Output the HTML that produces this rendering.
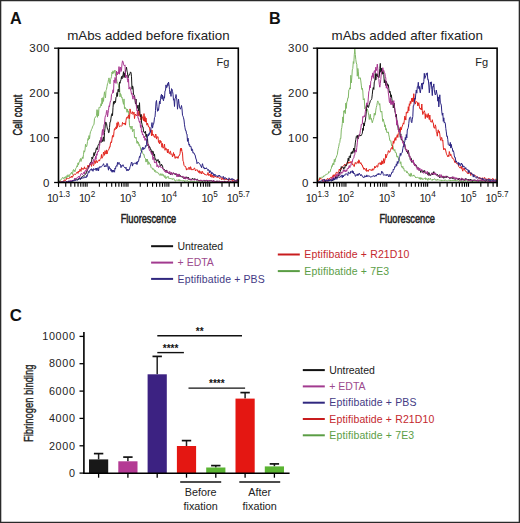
<!DOCTYPE html>
<html><head><meta charset="utf-8"><style>
html,body{margin:0;padding:0;background:#fff;}
body{width:520px;height:523px;overflow:hidden;}
svg{display:block;font-family:"Liberation Sans", sans-serif;}
</style></head><body>
<svg width="520" height="523" viewBox="0 0 520 523">
<text x="9.9" y="23.7" font-size="16.2" font-weight="bold" fill="#111">A</text>
<text x="269.0" y="23.7" font-size="16.2" font-weight="bold" fill="#111">B</text>
<text x="9.7" y="321.1" font-size="16.8" font-weight="bold" fill="#111">C</text>
<line x1="54.1" y1="182.5" x2="58.5" y2="182.5" stroke="#000" stroke-width="1.3"/>
<text x="50.0" y="186.5" font-size="11.5" letter-spacing="0.5" text-anchor="end" fill="#222">0</text>
<line x1="54.1" y1="137.7" x2="58.5" y2="137.7" stroke="#000" stroke-width="1.3"/>
<text x="50.0" y="141.7" font-size="11.5" letter-spacing="0.5" text-anchor="end" fill="#222">100</text>
<line x1="54.1" y1="93.0" x2="58.5" y2="93.0" stroke="#000" stroke-width="1.3"/>
<text x="50.0" y="97.0" font-size="11.5" letter-spacing="0.5" text-anchor="end" fill="#222">200</text>
<line x1="54.1" y1="48.2" x2="58.5" y2="48.2" stroke="#000" stroke-width="1.3"/>
<text x="50.0" y="52.2" font-size="11.5" letter-spacing="0.5" text-anchor="end" fill="#222">300</text>
<line x1="58.54" y1="182.5" x2="58.54" y2="186.8" stroke="#000" stroke-width="1.1"/>
<line x1="65.74" y1="182.5" x2="65.74" y2="186.8" stroke="#000" stroke-width="1.1"/>
<line x1="70.84" y1="182.5" x2="70.84" y2="186.8" stroke="#000" stroke-width="1.1"/>
<line x1="74.80" y1="182.5" x2="74.80" y2="186.8" stroke="#000" stroke-width="1.1"/>
<line x1="78.04" y1="182.5" x2="78.04" y2="186.8" stroke="#000" stroke-width="1.1"/>
<line x1="80.77" y1="182.5" x2="80.77" y2="186.8" stroke="#000" stroke-width="1.1"/>
<line x1="83.14" y1="182.5" x2="83.14" y2="186.8" stroke="#000" stroke-width="1.1"/>
<line x1="85.23" y1="182.5" x2="85.23" y2="186.8" stroke="#000" stroke-width="1.1"/>
<line x1="87.10" y1="182.5" x2="87.10" y2="186.8" stroke="#000" stroke-width="1.1"/>
<line x1="99.41" y1="182.5" x2="99.41" y2="186.8" stroke="#000" stroke-width="1.1"/>
<line x1="106.60" y1="182.5" x2="106.60" y2="186.8" stroke="#000" stroke-width="1.1"/>
<line x1="111.71" y1="182.5" x2="111.71" y2="186.8" stroke="#000" stroke-width="1.1"/>
<line x1="115.67" y1="182.5" x2="115.67" y2="186.8" stroke="#000" stroke-width="1.1"/>
<line x1="118.90" y1="182.5" x2="118.90" y2="186.8" stroke="#000" stroke-width="1.1"/>
<line x1="121.64" y1="182.5" x2="121.64" y2="186.8" stroke="#000" stroke-width="1.1"/>
<line x1="124.01" y1="182.5" x2="124.01" y2="186.8" stroke="#000" stroke-width="1.1"/>
<line x1="126.10" y1="182.5" x2="126.10" y2="186.8" stroke="#000" stroke-width="1.1"/>
<line x1="127.97" y1="182.5" x2="127.97" y2="186.8" stroke="#000" stroke-width="1.1"/>
<line x1="140.27" y1="182.5" x2="140.27" y2="186.8" stroke="#000" stroke-width="1.1"/>
<line x1="147.47" y1="182.5" x2="147.47" y2="186.8" stroke="#000" stroke-width="1.1"/>
<line x1="152.57" y1="182.5" x2="152.57" y2="186.8" stroke="#000" stroke-width="1.1"/>
<line x1="156.53" y1="182.5" x2="156.53" y2="186.8" stroke="#000" stroke-width="1.1"/>
<line x1="159.77" y1="182.5" x2="159.77" y2="186.8" stroke="#000" stroke-width="1.1"/>
<line x1="162.50" y1="182.5" x2="162.50" y2="186.8" stroke="#000" stroke-width="1.1"/>
<line x1="164.87" y1="182.5" x2="164.87" y2="186.8" stroke="#000" stroke-width="1.1"/>
<line x1="166.96" y1="182.5" x2="166.96" y2="186.8" stroke="#000" stroke-width="1.1"/>
<line x1="168.83" y1="182.5" x2="168.83" y2="186.8" stroke="#000" stroke-width="1.1"/>
<line x1="181.13" y1="182.5" x2="181.13" y2="186.8" stroke="#000" stroke-width="1.1"/>
<line x1="188.33" y1="182.5" x2="188.33" y2="186.8" stroke="#000" stroke-width="1.1"/>
<line x1="193.43" y1="182.5" x2="193.43" y2="186.8" stroke="#000" stroke-width="1.1"/>
<line x1="197.39" y1="182.5" x2="197.39" y2="186.8" stroke="#000" stroke-width="1.1"/>
<line x1="200.63" y1="182.5" x2="200.63" y2="186.8" stroke="#000" stroke-width="1.1"/>
<line x1="203.37" y1="182.5" x2="203.37" y2="186.8" stroke="#000" stroke-width="1.1"/>
<line x1="205.74" y1="182.5" x2="205.74" y2="186.8" stroke="#000" stroke-width="1.1"/>
<line x1="207.83" y1="182.5" x2="207.83" y2="186.8" stroke="#000" stroke-width="1.1"/>
<line x1="209.70" y1="182.5" x2="209.70" y2="186.8" stroke="#000" stroke-width="1.1"/>
<line x1="222.00" y1="182.5" x2="222.00" y2="186.8" stroke="#000" stroke-width="1.1"/>
<line x1="229.19" y1="182.5" x2="229.19" y2="186.8" stroke="#000" stroke-width="1.1"/>
<line x1="234.30" y1="182.5" x2="234.30" y2="186.8" stroke="#000" stroke-width="1.1"/>
<line x1="238.26" y1="182.5" x2="238.26" y2="186.8" stroke="#000" stroke-width="1.1"/>
<line x1="58.50" y1="182.5" x2="58.50" y2="186.8" stroke="#000" stroke-width="1.1"/>
<line x1="238.30" y1="182.5" x2="238.30" y2="186.8" stroke="#000" stroke-width="1.1"/>
<text x="58.5" y="201.6" font-size="11" text-anchor="middle" fill="#222"><tspan letter-spacing="-0.7">10</tspan><tspan font-size="8.2" dx="0.9" dy="-4.3">1.3</tspan></text>
<text x="87.1" y="201.6" font-size="11" text-anchor="middle" fill="#222"><tspan letter-spacing="-0.7">10</tspan><tspan font-size="8.2" dx="0.9" dy="-4.3">2</tspan></text>
<text x="128.0" y="201.6" font-size="11" text-anchor="middle" fill="#222"><tspan letter-spacing="-0.7">10</tspan><tspan font-size="8.2" dx="0.9" dy="-4.3">3</tspan></text>
<text x="168.8" y="201.6" font-size="11" text-anchor="middle" fill="#222"><tspan letter-spacing="-0.7">10</tspan><tspan font-size="8.2" dx="0.9" dy="-4.3">4</tspan></text>
<text x="209.7" y="201.6" font-size="11" text-anchor="middle" fill="#222"><tspan letter-spacing="-0.7">10</tspan><tspan font-size="8.2" dx="0.9" dy="-4.3">5</tspan></text>
<text x="238.3" y="201.6" font-size="11" text-anchor="middle" fill="#222"><tspan letter-spacing="-0.7">10</tspan><tspan font-size="8.2" dx="0.9" dy="-4.3">5.7</tspan></text>
<path d="M58.5 182.4L59.0 181.4L59.5 181.1L60.0 181.0L60.5 179.8L61.0 179.7L61.5 179.4L62.0 178.2L62.5 177.4L63.0 178.3L63.5 178.6L64.0 177.3L64.5 177.3L65.0 178.6L65.5 176.8L66.0 176.6L66.5 178.5L67.0 175.5L67.5 177.1L68.0 174.7L68.5 175.6L69.0 177.0L69.5 176.3L70.0 174.0L70.5 173.9L71.0 173.9L71.5 172.2L72.0 173.4L72.5 174.5L73.0 170.6L73.5 169.5L74.0 171.3L74.5 170.3L75.0 171.7L75.5 168.8L76.0 168.2L76.5 167.3L77.0 165.7L77.5 166.7L78.0 162.9L78.5 164.8L79.0 162.0L79.5 161.9L80.0 159.7L80.5 158.5L81.0 161.5L81.5 158.9L82.0 159.2L82.5 156.9L83.0 158.5L83.5 154.3L84.0 150.7L84.5 152.1L85.0 150.1L85.5 144.3L86.0 146.3L86.5 146.8L87.0 145.0L87.5 141.5L88.0 138.5L88.5 140.1L89.0 135.6L89.5 138.9L90.0 134.3L90.5 131.7L91.0 131.1L91.5 129.4L92.0 128.6L92.5 126.9L93.0 125.8L93.5 125.2L94.0 124.1L94.5 118.6L95.0 117.4L95.5 117.1L96.0 116.7L96.5 115.4L97.0 109.6L97.5 117.3L98.0 110.4L98.5 115.8L99.0 107.2L99.5 107.1L100.0 107.7L100.5 106.6L101.0 103.7L101.5 105.8L102.0 98.1L102.5 103.6L103.0 97.5L103.5 101.4L104.0 95.8L104.5 91.8L105.0 95.0L105.5 97.9L106.0 90.4L106.5 89.3L107.0 86.4L107.5 83.7L108.0 82.6L108.5 79.6L109.0 77.9L109.5 80.7L110.0 83.9L110.5 79.7L111.0 78.3L111.5 76.5L112.0 72.0L112.5 73.8L113.0 70.8L113.5 73.3L114.0 72.6L114.5 71.1L115.0 70.0L115.5 75.5L116.0 74.1L116.5 78.8L117.0 81.6L117.5 82.7L118.0 83.7L118.5 85.4L119.0 87.8L119.5 85.2L120.0 96.9L120.5 93.5L121.0 94.6L121.5 97.5L122.0 97.0L122.5 100.2L123.0 102.0L123.5 104.3L124.0 98.9L124.5 108.6L125.0 107.2L125.5 108.8L126.0 108.9L126.5 108.9L127.0 112.3L127.5 109.0L128.0 112.1L128.5 111.2L129.0 116.7L129.5 125.5L130.0 127.2L130.5 126.3L131.0 129.2L131.5 128.5L132.0 126.0L132.5 131.8L133.0 131.0L133.5 130.1L134.0 129.2L134.5 137.5L135.0 137.1L135.5 138.3L136.0 137.1L136.5 139.7L137.0 143.3L137.5 141.0L138.0 143.5L138.5 142.4L139.0 145.6L139.5 144.6L140.0 146.7L140.5 148.0L141.0 151.2L141.5 151.5L142.0 150.9L142.5 152.8L143.0 153.8L143.5 154.7L144.0 154.3L144.5 157.7L145.0 157.8L145.5 158.5L146.0 162.1L146.5 159.1L147.0 161.5L147.5 159.3L148.0 164.6L148.5 161.7L149.0 162.3L149.5 164.1L150.0 163.9L150.5 164.3L151.0 167.4L151.5 168.0L152.0 168.0L152.5 168.1L153.0 169.7L153.5 168.8L154.0 169.2L154.5 171.5L155.0 170.1L155.5 170.6L156.0 172.5L156.5 172.0L157.0 171.7L157.5 172.8L158.0 173.1L158.5 173.0L159.0 174.2L159.5 174.9L160.0 175.5L160.5 173.7L161.0 175.1L161.5 175.3L162.0 173.7L162.5 174.9L163.0 175.8L163.5 174.6L164.0 176.5L164.5 177.4L165.0 175.6L165.5 177.9L166.0 178.7L166.5 177.0L167.0 177.2L167.5 177.3L168.0 176.2L168.5 177.1L169.0 178.7L169.5 178.0L170.0 178.8L170.5 178.5L171.0 178.6L171.5 179.2L172.0 178.3L172.5 179.4L173.0 179.5L173.5 178.7L174.0 178.6L174.5 179.4L175.0 181.1L175.5 180.9L176.0 180.7L176.5 179.9L177.0 180.3L177.5 180.1L178.0 180.8L178.5 180.6L179.0 179.3L179.5 180.8L180.0 180.9L180.5 180.2L181.0 180.2L181.5 180.9L182.0 180.4L182.5 180.8L183.0 180.8L183.5 180.5L184.0 180.3L184.5 181.9L185.0 180.6L185.5 181.1L186.0 181.0L186.5 181.1L187.0 180.4L187.5 180.8L188.0 180.7L188.5 181.8L189.0 181.0L189.5 181.0L190.0 181.8L190.5 181.6L191.0 182.0L191.5 181.7L192.0 181.5L192.5 181.2L193.0 182.2L193.5 181.5L194.0 181.2L194.5 181.5L195.0 181.5L195.5 182.2L196.0 182.4L196.5 181.6L197.0 182.0L197.5 181.4L198.0 181.6L198.5 181.4L199.0 181.8L199.5 181.9L200.0 181.8L200.5 181.6L201.0 181.7L201.5 181.5L202.0 182.0L202.5 181.7L203.0 181.9L203.5 182.2L204.0 181.6L204.5 182.4L205.0 181.1L205.5 181.7L206.0 182.2L206.5 181.8L207.0 181.6L207.5 181.8L208.0 182.4L208.5 182.4L209.0 181.5L209.5 181.8L210.0 181.8L210.5 182.4L211.0 181.9L211.5 182.1L212.0 182.1L212.5 182.0L213.0 181.9L213.5 182.4L214.0 182.1L214.5 181.7L215.0 182.0L215.5 181.7L216.0 182.1L216.5 182.0L217.0 181.8L217.5 181.5L218.0 182.4L218.5 182.1L219.0 182.4L219.5 181.9L220.0 182.3L220.5 182.4L221.0 182.4L221.5 182.0L222.0 181.6L222.5 181.8L223.0 182.3L223.5 182.4L224.0 182.4L224.5 182.2L225.0 182.3L225.5 182.4L226.0 182.2L226.5 182.3L227.0 182.4L227.5 182.0L228.0 182.4L228.5 182.4L229.0 182.4L229.5 182.4L230.0 182.3L230.5 182.0L231.0 182.4L231.5 182.4L232.0 182.1L232.5 182.4L233.0 182.2L233.5 182.1L234.0 182.3L234.5 182.3L235.0 182.2L235.5 182.3L236.0 182.3L236.5 182.1L237.0 182.4L237.5 182.4L238.0 182.2" fill="none" stroke="#80b866" stroke-width="1.00" stroke-linejoin="round"/>
<path d="M58.5 182.4L59.0 182.4L59.5 182.0L60.0 181.8L60.5 181.4L61.0 181.5L61.5 181.9L62.0 181.5L62.5 181.6L63.0 181.1L63.5 181.0L64.0 180.8L64.5 179.7L65.0 180.8L65.5 180.4L66.0 180.1L66.5 178.5L67.0 178.2L67.5 178.4L68.0 178.4L68.5 178.6L69.0 178.1L69.5 178.2L70.0 177.0L70.5 177.4L71.0 177.1L71.5 176.0L72.0 177.6L72.5 176.3L73.0 176.5L73.5 174.7L74.0 174.2L74.5 174.2L75.0 174.1L75.5 174.5L76.0 173.8L76.5 172.8L77.0 172.0L77.5 172.0L78.0 173.4L78.5 171.0L79.0 171.7L79.5 171.5L80.0 169.2L80.5 170.4L81.0 171.4L81.5 167.6L82.0 169.2L82.5 169.2L83.0 168.2L83.5 169.4L84.0 168.6L84.5 166.8L85.0 169.1L85.5 168.7L86.0 168.8L86.5 169.2L87.0 167.7L87.5 167.1L88.0 165.1L88.5 167.1L89.0 165.4L89.5 165.3L90.0 164.0L90.5 164.1L91.0 164.3L91.5 166.4L92.0 162.0L92.5 162.5L93.0 164.4L93.5 165.7L94.0 164.4L94.5 161.0L95.0 160.4L95.5 163.4L96.0 161.5L96.5 160.5L97.0 162.8L97.5 162.5L98.0 160.7L98.5 160.3L99.0 160.0L99.5 161.1L100.0 159.2L100.5 158.6L101.0 158.1L101.5 154.5L102.0 158.3L102.5 157.3L103.0 156.2L103.5 152.0L104.0 153.5L104.5 155.3L105.0 150.7L105.5 152.7L106.0 154.1L106.5 149.9L107.0 154.0L107.5 151.8L108.0 150.2L108.5 149.9L109.0 149.1L109.5 146.9L110.0 147.3L110.5 142.8L111.0 141.8L111.5 142.7L112.0 139.1L112.5 135.5L113.0 137.2L113.5 136.7L114.0 131.7L114.5 128.6L115.0 129.8L115.5 128.5L116.0 126.8L116.5 128.9L117.0 122.8L117.5 127.4L118.0 121.8L118.5 122.6L119.0 125.4L119.5 126.7L120.0 126.5L120.5 125.8L121.0 125.8L121.5 126.2L122.0 125.6L122.5 122.4L123.0 123.5L123.5 124.1L124.0 123.0L124.5 124.3L125.0 122.9L125.5 125.1L126.0 120.4L126.5 117.7L127.0 116.9L127.5 116.9L128.0 118.4L128.5 114.9L129.0 115.9L129.5 118.7L130.0 108.9L130.5 110.9L131.0 113.6L131.5 113.4L132.0 112.9L132.5 111.7L133.0 114.5L133.5 113.8L134.0 112.1L134.5 118.6L135.0 115.2L135.5 114.0L136.0 115.6L136.5 115.5L137.0 116.0L137.5 110.4L138.0 113.3L138.5 115.7L139.0 110.4L139.5 113.2L140.0 116.3L140.5 117.5L141.0 120.3L141.5 114.6L142.0 117.4L142.5 116.8L143.0 119.3L143.5 120.6L144.0 113.6L144.5 121.3L145.0 116.6L145.5 122.1L146.0 118.0L146.5 122.3L147.0 125.2L147.5 123.1L148.0 124.8L148.5 127.0L149.0 126.6L149.5 127.1L150.0 131.5L150.5 131.5L151.0 129.8L151.5 135.8L152.0 130.1L152.5 135.3L153.0 134.0L153.5 135.2L154.0 136.8L154.5 136.4L155.0 137.7L155.5 134.0L156.0 134.5L156.5 139.1L157.0 136.6L157.5 137.0L158.0 136.7L158.5 142.2L159.0 141.8L159.5 143.8L160.0 140.1L160.5 142.5L161.0 141.2L161.5 145.2L162.0 147.3L162.5 143.5L163.0 148.3L163.5 147.9L164.0 146.5L164.5 144.1L165.0 150.3L165.5 148.2L166.0 147.9L166.5 150.1L167.0 150.6L167.5 152.8L168.0 149.0L168.5 152.7L169.0 153.5L169.5 153.7L170.0 151.4L170.5 151.2L171.0 154.6L171.5 153.8L172.0 154.4L172.5 157.0L173.0 154.9L173.5 152.5L174.0 155.7L174.5 154.1L175.0 158.5L175.5 158.1L176.0 156.5L176.5 157.2L177.0 158.1L177.5 156.8L178.0 158.4L178.5 156.1L179.0 156.1L179.5 155.2L180.0 153.8L180.5 148.4L181.0 150.8L181.5 148.3L182.0 151.7L182.5 153.1L183.0 161.1L183.5 161.7L184.0 165.6L184.5 165.9L185.0 166.6L185.5 166.4L186.0 167.9L186.5 170.1L187.0 168.5L187.5 169.1L188.0 169.6L188.5 168.3L189.0 167.1L189.5 167.9L190.0 169.7L190.5 166.7L191.0 167.9L191.5 169.8L192.0 169.8L192.5 169.1L193.0 170.1L193.5 169.6L194.0 168.3L194.5 168.0L195.0 169.2L195.5 171.0L196.0 169.8L196.5 169.8L197.0 170.3L197.5 169.9L198.0 171.6L198.5 170.9L199.0 172.8L199.5 170.7L200.0 173.4L200.5 172.6L201.0 171.4L201.5 174.0L202.0 173.1L202.5 171.4L203.0 172.7L203.5 173.9L204.0 173.3L204.5 174.5L205.0 174.5L205.5 174.6L206.0 174.3L206.5 175.3L207.0 174.8L207.5 174.7L208.0 172.5L208.5 175.3L209.0 175.7L209.5 174.4L210.0 174.5L210.5 176.7L211.0 173.7L211.5 175.8L212.0 177.4L212.5 175.0L213.0 176.5L213.5 177.6L214.0 176.2L214.5 176.9L215.0 177.3L215.5 176.0L216.0 176.8L216.5 177.3L217.0 177.8L217.5 177.4L218.0 177.4L218.5 177.0L219.0 177.6L219.5 178.6L220.0 178.1L220.5 177.6L221.0 177.7L221.5 179.9L222.0 179.3L222.5 179.1L223.0 177.4L223.5 179.3L224.0 179.4L224.5 180.2L225.0 179.5L225.5 179.3L226.0 179.7L226.5 178.2L227.0 180.1L227.5 179.7L228.0 179.1L228.5 180.4L229.0 180.7L229.5 178.9L230.0 179.4L230.5 180.0L231.0 180.0L231.5 179.7L232.0 179.4L232.5 181.2L233.0 180.6L233.5 179.5L234.0 179.4L234.5 181.1L235.0 180.8L235.5 181.2L236.0 180.7L236.5 179.9L237.0 180.5L237.5 179.3L238.0 180.1" fill="none" stroke="#e2231c" stroke-width="1.00" stroke-linejoin="round"/>
<path d="M58.5 182.4L59.0 182.4L59.5 182.1L60.0 181.9L60.5 182.3L61.0 182.4L61.5 182.2L62.0 181.8L62.5 182.1L63.0 182.4L63.5 181.7L64.0 182.4L64.5 182.2L65.0 182.2L65.5 182.3L66.0 181.8L66.5 181.9L67.0 182.4L67.5 181.8L68.0 181.8L68.5 181.4L69.0 181.7L69.5 182.1L70.0 182.2L70.5 181.9L71.0 181.7L71.5 181.6L72.0 181.3L72.5 181.4L73.0 180.7L73.5 181.2L74.0 180.4L74.5 179.5L75.0 179.5L75.5 179.9L76.0 179.6L76.5 179.0L77.0 179.0L77.5 179.4L78.0 179.4L78.5 179.5L79.0 178.3L79.5 178.9L80.0 179.2L80.5 178.4L81.0 179.0L81.5 177.0L82.0 177.0L82.5 176.8L83.0 175.9L83.5 175.8L84.0 175.7L84.5 175.1L85.0 174.3L85.5 174.0L86.0 173.9L86.5 171.4L87.0 171.8L87.5 169.3L88.0 168.9L88.5 166.8L89.0 166.9L89.5 165.2L90.0 164.1L90.5 162.3L91.0 162.2L91.5 162.9L92.0 157.0L92.5 159.0L93.0 157.3L93.5 155.2L94.0 152.6L94.5 155.7L95.0 152.3L95.5 152.6L96.0 149.4L96.5 147.8L97.0 149.8L97.5 148.2L98.0 145.5L98.5 144.6L99.0 145.1L99.5 141.6L100.0 140.5L100.5 141.3L101.0 142.6L101.5 141.8L102.0 140.0L102.5 141.5L103.0 138.2L103.5 136.9L104.0 141.4L104.5 132.4L105.0 128.4L105.5 122.2L106.0 122.2L106.5 123.3L107.0 126.9L107.5 129.2L108.0 129.2L108.5 132.6L109.0 132.7L109.5 127.6L110.0 121.9L110.5 121.8L111.0 118.1L111.5 114.7L112.0 113.6L112.5 115.6L113.0 107.6L113.5 101.6L114.0 104.2L114.5 101.0L115.0 102.7L115.5 102.4L116.0 97.1L116.5 96.7L117.0 92.6L117.5 96.4L118.0 89.6L118.5 88.9L119.0 92.0L119.5 81.9L120.0 83.3L120.5 81.2L121.0 79.7L121.5 76.5L122.0 78.9L122.5 75.7L123.0 75.5L123.5 71.7L124.0 77.6L124.5 73.2L125.0 76.9L125.5 70.0L126.0 69.6L126.5 67.2L127.0 71.1L127.5 72.8L128.0 77.9L128.5 76.5L129.0 74.7L129.5 74.8L130.0 73.4L130.5 71.9L131.0 72.7L131.5 76.8L132.0 89.3L132.5 85.9L133.0 87.2L133.5 94.5L134.0 94.6L134.5 95.4L135.0 100.4L135.5 103.9L136.0 99.0L136.5 106.2L137.0 105.9L137.5 108.3L138.0 105.0L138.5 110.8L139.0 110.1L139.5 102.7L140.0 113.9L140.5 116.9L141.0 114.5L141.5 122.0L142.0 124.1L142.5 127.0L143.0 126.8L143.5 131.0L144.0 132.5L144.5 132.1L145.0 133.3L145.5 131.3L146.0 136.6L146.5 134.3L147.0 138.0L147.5 138.6L148.0 146.0L148.5 144.2L149.0 148.2L149.5 146.4L150.0 147.3L150.5 149.5L151.0 149.2L151.5 153.7L152.0 150.8L152.5 154.6L153.0 151.3L153.5 152.7L154.0 156.0L154.5 154.0L155.0 159.8L155.5 158.8L156.0 159.2L156.5 162.5L157.0 160.4L157.5 160.9L158.0 159.4L158.5 160.3L159.0 162.8L159.5 161.0L160.0 165.0L160.5 165.9L161.0 165.9L161.5 164.1L162.0 165.6L162.5 165.7L163.0 168.7L163.5 169.7L164.0 169.0L164.5 170.0L165.0 170.5L165.5 171.4L166.0 170.0L166.5 170.3L167.0 172.4L167.5 172.5L168.0 172.8L168.5 172.7L169.0 173.7L169.5 173.6L170.0 172.8L170.5 175.0L171.0 174.5L171.5 173.5L172.0 173.7L172.5 173.3L173.0 172.8L173.5 173.2L174.0 173.0L174.5 173.8L175.0 174.8L175.5 174.6L176.0 173.6L176.5 174.8L177.0 174.6L177.5 174.4L178.0 176.3L178.5 174.7L179.0 176.5L179.5 174.5L180.0 176.3L180.5 175.6L181.0 177.1L181.5 176.8L182.0 176.1L182.5 177.3L183.0 177.9L183.5 178.1L184.0 178.3L184.5 177.1L185.0 179.0L185.5 177.2L186.0 177.7L186.5 176.8L187.0 177.9L187.5 177.2L188.0 178.4L188.5 177.3L189.0 179.8L189.5 179.2L190.0 179.8L190.5 179.7L191.0 179.1L191.5 179.4L192.0 179.3L192.5 178.1L193.0 178.6L193.5 179.1L194.0 179.9L194.5 178.6L195.0 179.6L195.5 179.2L196.0 180.1L196.5 180.1L197.0 179.2L197.5 179.2L198.0 180.7L198.5 180.5L199.0 180.0L199.5 180.5L200.0 180.1L200.5 180.4L201.0 180.0L201.5 180.6L202.0 181.2L202.5 181.1L203.0 181.1L203.5 180.6L204.0 181.1L204.5 180.4L205.0 180.5L205.5 180.8L206.0 180.3L206.5 180.9L207.0 180.0L207.5 181.6L208.0 181.3L208.5 181.1L209.0 180.6L209.5 180.7L210.0 180.8L210.5 180.3L211.0 180.8L211.5 180.6L212.0 181.5L212.5 181.7L213.0 181.8L213.5 180.5L214.0 180.6L214.5 181.8L215.0 181.5L215.5 181.7L216.0 181.5L216.5 181.4L217.0 182.2L217.5 181.7L218.0 181.6L218.5 180.9L219.0 181.4L219.5 182.0L220.0 181.7L220.5 181.8L221.0 181.4L221.5 181.8L222.0 181.3L222.5 181.5L223.0 182.0L223.5 182.2L224.0 181.4L224.5 181.5L225.0 181.5L225.5 181.5L226.0 181.6L226.5 182.0L227.0 181.8L227.5 181.7L228.0 181.9L228.5 181.1L229.0 181.7L229.5 182.4L230.0 181.4L230.5 181.6L231.0 181.9L231.5 182.2L232.0 181.7L232.5 181.5L233.0 182.4L233.5 181.1L234.0 181.6L234.5 181.6L235.0 181.2L235.5 182.4L236.0 182.4L236.5 181.5L237.0 181.8L237.5 181.9L238.0 182.2" fill="none" stroke="#141414" stroke-width="1.00" stroke-linejoin="round"/>
<path d="M58.5 182.4L59.0 182.4L59.5 182.2L60.0 182.1L60.5 182.4L61.0 182.4L61.5 182.3L62.0 181.9L62.5 181.9L63.0 182.1L63.5 182.4L64.0 182.1L64.5 181.9L65.0 181.9L65.5 182.0L66.0 181.5L66.5 181.7L67.0 181.6L67.5 182.1L68.0 181.3L68.5 181.6L69.0 180.6L69.5 181.4L70.0 180.9L70.5 180.5L71.0 180.6L71.5 181.0L72.0 180.2L72.5 180.7L73.0 180.8L73.5 180.6L74.0 180.3L74.5 178.3L75.0 179.0L75.5 178.1L76.0 178.9L76.5 178.0L77.0 177.9L77.5 177.8L78.0 176.7L78.5 176.9L79.0 176.0L79.5 177.9L80.0 175.7L80.5 175.6L81.0 173.7L81.5 173.5L82.0 173.6L82.5 174.6L83.0 174.2L83.5 173.3L84.0 172.0L84.5 174.0L85.0 170.8L85.5 170.5L86.0 171.4L86.5 169.5L87.0 170.2L87.5 170.3L88.0 168.5L88.5 168.4L89.0 167.3L89.5 165.8L90.0 163.2L90.5 163.7L91.0 164.5L91.5 161.8L92.0 162.5L92.5 162.8L93.0 163.6L93.5 159.4L94.0 159.9L94.5 160.2L95.0 160.0L95.5 156.3L96.0 159.4L96.5 153.9L97.0 155.3L97.5 151.7L98.0 151.3L98.5 151.9L99.0 148.9L99.5 146.5L100.0 142.5L100.5 140.8L101.0 137.2L101.5 141.4L102.0 132.8L102.5 129.5L103.0 135.2L103.5 131.5L104.0 124.4L104.5 124.2L105.0 117.8L105.5 115.6L106.0 114.9L106.5 111.3L107.0 110.2L107.5 116.9L108.0 113.4L108.5 110.4L109.0 105.8L109.5 106.7L110.0 102.9L110.5 100.9L111.0 100.6L111.5 94.4L112.0 93.8L112.5 93.0L113.0 89.8L113.5 92.6L114.0 80.1L114.5 82.6L115.0 77.5L115.5 78.7L116.0 83.4L116.5 71.0L117.0 73.3L117.5 74.8L118.0 72.0L118.5 73.5L119.0 66.6L119.5 74.2L120.0 68.7L120.5 67.2L121.0 71.5L121.5 70.1L122.0 63.8L122.5 60.8L123.0 61.7L123.5 64.2L124.0 65.6L124.5 65.5L125.0 64.9L125.5 78.0L126.0 77.3L126.5 75.2L127.0 76.2L127.5 80.4L128.0 82.2L128.5 78.6L129.0 89.1L129.5 87.7L130.0 86.9L130.5 90.0L131.0 90.9L131.5 94.3L132.0 93.2L132.5 97.3L133.0 99.2L133.5 95.7L134.0 96.6L134.5 96.8L135.0 99.8L135.5 99.9L136.0 103.0L136.5 107.1L137.0 111.0L137.5 110.2L138.0 118.4L138.5 118.1L139.0 121.0L139.5 122.5L140.0 121.1L140.5 127.5L141.0 125.0L141.5 132.2L142.0 131.1L142.5 135.1L143.0 134.3L143.5 135.5L144.0 138.0L144.5 136.3L145.0 140.4L145.5 138.4L146.0 140.2L146.5 139.6L147.0 142.9L147.5 144.2L148.0 143.9L148.5 144.3L149.0 148.2L149.5 150.7L150.0 151.0L150.5 150.9L151.0 152.5L151.5 154.4L152.0 152.5L152.5 155.9L153.0 159.7L153.5 156.8L154.0 159.3L154.5 162.8L155.0 162.2L155.5 163.1L156.0 162.4L156.5 161.6L157.0 166.8L157.5 164.9L158.0 165.3L158.5 167.5L159.0 167.0L159.5 166.6L160.0 165.7L160.5 167.2L161.0 167.6L161.5 167.4L162.0 167.6L162.5 167.8L163.0 169.2L163.5 169.0L164.0 170.5L164.5 171.5L165.0 171.1L165.5 171.0L166.0 172.9L166.5 172.2L167.0 170.4L167.5 171.4L168.0 172.6L168.5 171.9L169.0 173.7L169.5 171.5L170.0 171.5L170.5 174.3L171.0 174.1L171.5 172.2L172.0 173.9L172.5 175.1L173.0 173.0L173.5 173.1L174.0 173.2L174.5 173.5L175.0 173.0L175.5 174.2L176.0 173.5L176.5 175.0L177.0 177.0L177.5 174.3L178.0 176.1L178.5 176.5L179.0 173.9L179.5 175.9L180.0 176.0L180.5 175.9L181.0 176.9L181.5 176.1L182.0 176.8L182.5 176.4L183.0 176.8L183.5 176.4L184.0 178.8L184.5 177.3L185.0 176.7L185.5 179.0L186.0 178.9L186.5 177.8L187.0 177.6L187.5 177.7L188.0 179.2L188.5 178.3L189.0 178.2L189.5 179.4L190.0 178.8L190.5 179.1L191.0 180.4L191.5 179.8L192.0 180.1L192.5 179.6L193.0 180.2L193.5 179.4L194.0 180.1L194.5 180.2L195.0 179.4L195.5 179.0L196.0 180.1L196.5 179.7L197.0 180.2L197.5 179.6L198.0 180.3L198.5 180.5L199.0 181.3L199.5 181.1L200.0 180.4L200.5 181.0L201.0 179.9L201.5 180.9L202.0 180.5L202.5 181.1L203.0 180.7L203.5 180.4L204.0 180.2L204.5 181.3L205.0 180.7L205.5 181.1L206.0 181.0L206.5 179.9L207.0 181.1L207.5 180.7L208.0 181.1L208.5 181.1L209.0 180.1L209.5 180.8L210.0 180.9L210.5 181.2L211.0 181.4L211.5 180.7L212.0 181.0L212.5 181.4L213.0 180.3L213.5 181.9L214.0 180.7L214.5 181.7L215.0 181.3L215.5 182.0L216.0 181.7L216.5 181.2L217.0 180.6L217.5 181.4L218.0 181.5L218.5 181.6L219.0 180.9L219.5 181.1L220.0 181.1L220.5 181.5L221.0 181.1L221.5 181.4L222.0 181.9L222.5 181.4L223.0 182.1L223.5 181.7L224.0 181.5L224.5 182.0L225.0 181.8L225.5 181.5L226.0 181.4L226.5 181.6L227.0 181.8L227.5 182.1L228.0 181.8L228.5 181.5L229.0 181.2L229.5 181.8L230.0 181.9L230.5 182.2L231.0 181.6L231.5 181.3L232.0 182.1L232.5 181.8L233.0 181.4L233.5 182.4L234.0 182.2L234.5 181.9L235.0 182.0L235.5 181.7L236.0 182.3L236.5 181.8L237.0 181.8L237.5 181.9L238.0 181.6" fill="none" stroke="#a8348f" stroke-width="1.00" stroke-linejoin="round"/>
<path d="M58.5 182.4L59.0 182.4L59.5 182.2L60.0 182.2L60.5 182.4L61.0 182.4L61.5 182.1L62.0 182.3L62.5 181.8L63.0 182.4L63.5 182.3L64.0 182.2L64.5 182.3L65.0 182.1L65.5 182.4L66.0 182.4L66.5 181.5L67.0 182.4L67.5 182.3L68.0 182.3L68.5 181.0L69.0 181.5L69.5 181.3L70.0 181.1L70.5 181.4L71.0 181.9L71.5 181.2L72.0 181.1L72.5 181.0L73.0 180.1L73.5 180.6L74.0 181.1L74.5 180.6L75.0 179.9L75.5 180.4L76.0 180.2L76.5 179.9L77.0 180.0L77.5 180.3L78.0 179.4L78.5 179.2L79.0 178.2L79.5 178.3L80.0 178.9L80.5 179.6L81.0 177.7L81.5 177.7L82.0 177.4L82.5 178.1L83.0 178.5L83.5 177.6L84.0 178.1L84.5 176.7L85.0 176.7L85.5 177.0L86.0 177.9L86.5 175.5L87.0 176.7L87.5 174.9L88.0 173.2L88.5 171.5L89.0 172.6L89.5 171.7L90.0 169.9L90.5 169.7L91.0 170.1L91.5 168.7L92.0 170.5L92.5 169.5L93.0 171.3L93.5 168.6L94.0 169.7L94.5 169.3L95.0 169.3L95.5 168.4L96.0 170.4L96.5 168.0L97.0 170.6L97.5 168.8L98.0 167.7L98.5 170.9L99.0 168.0L99.5 166.7L100.0 167.7L100.5 166.6L101.0 167.1L101.5 166.7L102.0 166.4L102.5 165.3L103.0 164.8L103.5 163.7L104.0 165.2L104.5 167.0L105.0 165.9L105.5 165.6L106.0 166.8L106.5 165.5L107.0 163.4L107.5 164.2L108.0 167.5L108.5 170.2L109.0 166.4L109.5 168.5L110.0 168.1L110.5 168.4L111.0 171.1L111.5 169.5L112.0 172.2L112.5 170.1L113.0 172.2L113.5 170.1L114.0 171.4L114.5 172.2L115.0 168.0L115.5 169.1L116.0 166.0L116.5 165.6L117.0 166.4L117.5 162.4L118.0 164.5L118.5 163.0L119.0 162.3L119.5 163.6L120.0 164.9L120.5 164.5L121.0 167.7L121.5 165.6L122.0 165.8L122.5 166.1L123.0 164.7L123.5 166.3L124.0 166.8L124.5 167.5L125.0 167.3L125.5 168.4L126.0 167.2L126.5 170.6L127.0 170.2L127.5 169.2L128.0 171.0L128.5 169.5L129.0 169.3L129.5 169.6L130.0 166.8L130.5 166.1L131.0 164.0L131.5 162.0L132.0 162.6L132.5 166.1L133.0 163.7L133.5 163.8L134.0 163.6L134.5 163.4L135.0 162.8L135.5 163.4L136.0 164.1L136.5 161.9L137.0 164.5L137.5 161.5L138.0 162.1L138.5 161.5L139.0 158.8L139.5 156.4L140.0 157.5L140.5 154.4L141.0 152.9L141.5 152.0L142.0 148.4L142.5 147.4L143.0 149.8L143.5 147.6L144.0 149.2L144.5 148.4L145.0 148.5L145.5 145.6L146.0 146.5L146.5 144.8L147.0 138.3L147.5 137.2L148.0 134.3L148.5 136.0L149.0 133.4L149.5 134.4L150.0 131.7L150.5 132.3L151.0 127.6L151.5 126.6L152.0 122.6L152.5 128.1L153.0 125.5L153.5 124.3L154.0 122.0L154.5 117.6L155.0 117.0L155.5 110.4L156.0 102.2L156.5 100.5L157.0 106.5L157.5 111.3L158.0 108.8L158.5 110.4L159.0 106.0L159.5 101.2L160.0 104.0L160.5 98.6L161.0 95.6L161.5 94.3L162.0 99.1L162.5 95.1L163.0 99.3L163.5 100.8L164.0 96.6L164.5 98.2L165.0 90.7L165.5 90.6L166.0 84.9L166.5 87.6L167.0 87.5L167.5 83.6L168.0 85.6L168.5 82.0L169.0 84.5L169.5 89.7L170.0 93.8L170.5 91.6L171.0 96.4L171.5 88.7L172.0 89.1L172.5 91.3L173.0 94.2L173.5 100.2L174.0 99.5L174.5 106.5L175.0 98.2L175.5 98.0L176.0 94.5L176.5 97.6L177.0 101.0L177.5 109.2L178.0 104.4L178.5 99.0L179.0 103.4L179.5 106.9L180.0 108.2L180.5 109.2L181.0 107.4L181.5 105.5L182.0 108.9L182.5 115.3L183.0 116.2L183.5 117.8L184.0 120.0L184.5 124.8L185.0 127.8L185.5 130.5L186.0 130.4L186.5 133.8L187.0 134.0L187.5 141.4L188.0 138.1L188.5 141.4L189.0 145.2L189.5 144.1L190.0 146.9L190.5 146.3L191.0 146.3L191.5 150.6L192.0 148.8L192.5 149.4L193.0 153.2L193.5 152.8L194.0 152.8L194.5 154.5L195.0 154.6L195.5 157.0L196.0 159.0L196.5 160.0L197.0 163.7L197.5 162.9L198.0 162.2L198.5 162.9L199.0 162.8L199.5 163.5L200.0 164.2L200.5 165.7L201.0 165.9L201.5 167.7L202.0 165.3L202.5 163.7L203.0 166.0L203.5 168.1L204.0 167.4L204.5 169.1L205.0 168.0L205.5 169.0L206.0 167.9L206.5 167.9L207.0 169.1L207.5 169.5L208.0 170.7L208.5 169.5L209.0 170.1L209.5 172.8L210.0 170.6L210.5 171.9L211.0 171.6L211.5 174.0L212.0 172.3L212.5 173.4L213.0 173.0L213.5 175.5L214.0 174.1L214.5 175.6L215.0 174.2L215.5 175.6L216.0 176.3L216.5 175.8L217.0 175.5L217.5 177.0L218.0 175.8L218.5 175.5L219.0 176.6L219.5 175.1L220.0 176.2L220.5 176.5L221.0 176.9L221.5 176.9L222.0 177.6L222.5 177.0L223.0 176.4L223.5 176.5L224.0 179.2L224.5 179.1L225.0 177.4L225.5 178.2L226.0 178.1L226.5 178.8L227.0 178.8L227.5 179.3L228.0 179.7L228.5 180.2L229.0 177.8L229.5 178.3L230.0 179.3L230.5 179.4L231.0 180.1L231.5 179.0L232.0 178.3L232.5 179.5L233.0 178.9L233.5 179.8L234.0 179.6L234.5 180.0L235.0 180.4L235.5 180.6L236.0 180.2L236.5 180.3L237.0 180.4L237.5 180.4L238.0 181.0" fill="none" stroke="#2b2483" stroke-width="1.00" stroke-linejoin="round"/>
<rect x="58.5" y="48.2" width="179.8" height="134.3" fill="none" stroke="#000" stroke-width="1.6"/>
<text x="216.5" y="65.6" font-size="11" fill="#222">Fg</text>
<text x="148.4" y="40.2" font-size="13.35" text-anchor="middle" fill="#222">mAbs added before fixation</text>
<text transform="translate(148.4 223.4) scale(0.735 1)" font-size="12.6" text-anchor="middle" fill="#222" stroke="#222" stroke-width="0.55">Fluorescence</text>
<text transform="translate(22.2 115.1) rotate(-90) scale(0.705 1)" font-size="13" text-anchor="middle" fill="#222" stroke="#222" stroke-width="0.55">Cell count</text>
<line x1="312.9" y1="182.5" x2="317.3" y2="182.5" stroke="#000" stroke-width="1.3"/>
<text x="308.8" y="186.5" font-size="11.5" letter-spacing="0.5" text-anchor="end" fill="#222">0</text>
<line x1="312.9" y1="137.7" x2="317.3" y2="137.7" stroke="#000" stroke-width="1.3"/>
<text x="308.8" y="141.7" font-size="11.5" letter-spacing="0.5" text-anchor="end" fill="#222">100</text>
<line x1="312.9" y1="93.0" x2="317.3" y2="93.0" stroke="#000" stroke-width="1.3"/>
<text x="308.8" y="97.0" font-size="11.5" letter-spacing="0.5" text-anchor="end" fill="#222">200</text>
<line x1="312.9" y1="48.2" x2="317.3" y2="48.2" stroke="#000" stroke-width="1.3"/>
<text x="308.8" y="52.2" font-size="11.5" letter-spacing="0.5" text-anchor="end" fill="#222">300</text>
<line x1="317.34" y1="182.5" x2="317.34" y2="186.8" stroke="#000" stroke-width="1.1"/>
<line x1="324.54" y1="182.5" x2="324.54" y2="186.8" stroke="#000" stroke-width="1.1"/>
<line x1="329.64" y1="182.5" x2="329.64" y2="186.8" stroke="#000" stroke-width="1.1"/>
<line x1="333.60" y1="182.5" x2="333.60" y2="186.8" stroke="#000" stroke-width="1.1"/>
<line x1="336.84" y1="182.5" x2="336.84" y2="186.8" stroke="#000" stroke-width="1.1"/>
<line x1="339.57" y1="182.5" x2="339.57" y2="186.8" stroke="#000" stroke-width="1.1"/>
<line x1="341.94" y1="182.5" x2="341.94" y2="186.8" stroke="#000" stroke-width="1.1"/>
<line x1="344.03" y1="182.5" x2="344.03" y2="186.8" stroke="#000" stroke-width="1.1"/>
<line x1="345.90" y1="182.5" x2="345.90" y2="186.8" stroke="#000" stroke-width="1.1"/>
<line x1="358.21" y1="182.5" x2="358.21" y2="186.8" stroke="#000" stroke-width="1.1"/>
<line x1="365.40" y1="182.5" x2="365.40" y2="186.8" stroke="#000" stroke-width="1.1"/>
<line x1="370.51" y1="182.5" x2="370.51" y2="186.8" stroke="#000" stroke-width="1.1"/>
<line x1="374.47" y1="182.5" x2="374.47" y2="186.8" stroke="#000" stroke-width="1.1"/>
<line x1="377.70" y1="182.5" x2="377.70" y2="186.8" stroke="#000" stroke-width="1.1"/>
<line x1="380.44" y1="182.5" x2="380.44" y2="186.8" stroke="#000" stroke-width="1.1"/>
<line x1="382.81" y1="182.5" x2="382.81" y2="186.8" stroke="#000" stroke-width="1.1"/>
<line x1="384.90" y1="182.5" x2="384.90" y2="186.8" stroke="#000" stroke-width="1.1"/>
<line x1="386.77" y1="182.5" x2="386.77" y2="186.8" stroke="#000" stroke-width="1.1"/>
<line x1="399.07" y1="182.5" x2="399.07" y2="186.8" stroke="#000" stroke-width="1.1"/>
<line x1="406.27" y1="182.5" x2="406.27" y2="186.8" stroke="#000" stroke-width="1.1"/>
<line x1="411.37" y1="182.5" x2="411.37" y2="186.8" stroke="#000" stroke-width="1.1"/>
<line x1="415.33" y1="182.5" x2="415.33" y2="186.8" stroke="#000" stroke-width="1.1"/>
<line x1="418.57" y1="182.5" x2="418.57" y2="186.8" stroke="#000" stroke-width="1.1"/>
<line x1="421.30" y1="182.5" x2="421.30" y2="186.8" stroke="#000" stroke-width="1.1"/>
<line x1="423.67" y1="182.5" x2="423.67" y2="186.8" stroke="#000" stroke-width="1.1"/>
<line x1="425.76" y1="182.5" x2="425.76" y2="186.8" stroke="#000" stroke-width="1.1"/>
<line x1="427.63" y1="182.5" x2="427.63" y2="186.8" stroke="#000" stroke-width="1.1"/>
<line x1="439.93" y1="182.5" x2="439.93" y2="186.8" stroke="#000" stroke-width="1.1"/>
<line x1="447.13" y1="182.5" x2="447.13" y2="186.8" stroke="#000" stroke-width="1.1"/>
<line x1="452.23" y1="182.5" x2="452.23" y2="186.8" stroke="#000" stroke-width="1.1"/>
<line x1="456.19" y1="182.5" x2="456.19" y2="186.8" stroke="#000" stroke-width="1.1"/>
<line x1="459.43" y1="182.5" x2="459.43" y2="186.8" stroke="#000" stroke-width="1.1"/>
<line x1="462.17" y1="182.5" x2="462.17" y2="186.8" stroke="#000" stroke-width="1.1"/>
<line x1="464.54" y1="182.5" x2="464.54" y2="186.8" stroke="#000" stroke-width="1.1"/>
<line x1="466.63" y1="182.5" x2="466.63" y2="186.8" stroke="#000" stroke-width="1.1"/>
<line x1="468.50" y1="182.5" x2="468.50" y2="186.8" stroke="#000" stroke-width="1.1"/>
<line x1="480.80" y1="182.5" x2="480.80" y2="186.8" stroke="#000" stroke-width="1.1"/>
<line x1="487.99" y1="182.5" x2="487.99" y2="186.8" stroke="#000" stroke-width="1.1"/>
<line x1="493.10" y1="182.5" x2="493.10" y2="186.8" stroke="#000" stroke-width="1.1"/>
<line x1="497.06" y1="182.5" x2="497.06" y2="186.8" stroke="#000" stroke-width="1.1"/>
<line x1="317.30" y1="182.5" x2="317.30" y2="186.8" stroke="#000" stroke-width="1.1"/>
<line x1="497.10" y1="182.5" x2="497.10" y2="186.8" stroke="#000" stroke-width="1.1"/>
<text x="317.3" y="201.6" font-size="11" text-anchor="middle" fill="#222"><tspan letter-spacing="-0.7">10</tspan><tspan font-size="8.2" dx="0.9" dy="-4.3">1.3</tspan></text>
<text x="345.9" y="201.6" font-size="11" text-anchor="middle" fill="#222"><tspan letter-spacing="-0.7">10</tspan><tspan font-size="8.2" dx="0.9" dy="-4.3">2</tspan></text>
<text x="386.8" y="201.6" font-size="11" text-anchor="middle" fill="#222"><tspan letter-spacing="-0.7">10</tspan><tspan font-size="8.2" dx="0.9" dy="-4.3">3</tspan></text>
<text x="427.6" y="201.6" font-size="11" text-anchor="middle" fill="#222"><tspan letter-spacing="-0.7">10</tspan><tspan font-size="8.2" dx="0.9" dy="-4.3">4</tspan></text>
<text x="468.5" y="201.6" font-size="11" text-anchor="middle" fill="#222"><tspan letter-spacing="-0.7">10</tspan><tspan font-size="8.2" dx="0.9" dy="-4.3">5</tspan></text>
<text x="497.1" y="201.6" font-size="11" text-anchor="middle" fill="#222"><tspan letter-spacing="-0.7">10</tspan><tspan font-size="8.2" dx="0.9" dy="-4.3">5.7</tspan></text>
<path d="M317.3 182.4L317.8 181.9L318.3 180.0L318.8 180.1L319.3 178.4L319.8 177.4L320.3 178.7L320.8 177.3L321.3 177.0L321.8 177.5L322.3 177.7L322.8 176.7L323.3 177.0L323.8 175.7L324.3 176.0L324.8 175.8L325.3 175.0L325.8 174.6L326.3 173.9L326.8 174.6L327.3 174.1L327.8 173.5L328.3 173.4L328.8 171.5L329.3 172.2L329.8 172.0L330.3 171.7L330.8 169.0L331.3 168.5L331.8 165.7L332.3 166.4L332.8 163.4L333.3 163.0L333.8 164.9L334.3 159.4L334.8 162.1L335.3 160.2L335.8 158.0L336.3 157.3L336.8 155.6L337.3 154.7L337.8 150.9L338.3 148.4L338.8 146.3L339.3 143.2L339.8 142.5L340.3 138.3L340.8 138.7L341.3 129.9L341.8 127.5L342.3 123.6L342.8 116.9L343.3 122.9L343.8 110.8L344.3 112.3L344.8 110.1L345.3 113.6L345.8 103.1L346.3 108.4L346.8 101.9L347.3 101.3L347.8 97.9L348.3 97.9L348.8 90.0L349.3 89.4L349.8 87.8L350.3 89.1L350.8 75.3L351.3 82.9L351.8 77.8L352.3 69.9L352.8 68.4L353.3 61.6L353.8 63.5L354.3 54.7L354.8 49.1L355.3 54.5L355.8 59.6L356.3 63.0L356.8 64.2L357.3 76.2L357.8 68.4L358.3 71.2L358.8 78.8L359.3 77.7L359.8 78.2L360.3 77.8L360.8 80.9L361.3 85.1L361.8 89.4L362.3 88.2L362.8 91.0L363.3 100.0L363.8 99.4L364.3 98.6L364.8 108.9L365.3 107.8L365.8 106.9L366.3 106.3L366.8 110.6L367.3 109.0L367.8 110.8L368.3 112.6L368.8 115.8L369.3 119.5L369.8 116.2L370.3 114.2L370.8 119.3L371.3 118.3L371.8 120.9L372.3 122.8L372.8 120.9L373.3 119.6L373.8 117.7L374.3 113.2L374.8 115.3L375.3 114.9L375.8 110.1L376.3 107.4L376.8 105.6L377.3 102.6L377.8 100.9L378.3 102.6L378.8 102.8L379.3 105.1L379.8 103.7L380.3 110.2L380.8 112.1L381.3 112.0L381.8 111.2L382.3 117.2L382.8 121.5L383.3 119.2L383.8 121.5L384.3 123.1L384.8 126.9L385.3 124.9L385.8 130.1L386.3 128.6L386.8 132.4L387.3 131.9L387.8 132.8L388.3 131.9L388.8 134.9L389.3 137.2L389.8 140.4L390.3 141.0L390.8 140.6L391.3 143.8L391.8 146.1L392.3 145.3L392.8 146.1L393.3 147.3L393.8 150.3L394.3 150.8L394.8 149.5L395.3 152.6L395.8 152.3L396.3 152.8L396.8 156.9L397.3 157.2L397.8 155.9L398.3 158.1L398.8 159.8L399.3 159.4L399.8 161.4L400.3 163.6L400.8 161.8L401.3 165.7L401.8 167.2L402.3 167.7L402.8 166.3L403.3 169.0L403.8 168.4L404.3 170.8L404.8 171.2L405.3 171.2L405.8 170.6L406.3 171.1L406.8 172.9L407.3 171.6L407.8 173.3L408.3 173.7L408.8 173.3L409.3 175.9L409.8 174.4L410.3 176.5L410.8 173.2L411.3 173.3L411.8 176.2L412.3 176.2L412.8 175.6L413.3 176.1L413.8 174.9L414.3 176.1L414.8 176.1L415.3 176.9L415.8 178.0L416.3 177.5L416.8 177.8L417.3 177.1L417.8 177.4L418.3 177.9L418.8 177.7L419.3 178.9L419.8 177.5L420.3 179.5L420.8 177.6L421.3 179.1L421.8 177.9L422.3 179.6L422.8 178.7L423.3 178.9L423.8 179.3L424.3 178.5L424.8 178.3L425.3 177.7L425.8 179.8L426.3 178.6L426.8 178.7L427.3 179.1L427.8 180.4L428.3 178.1L428.8 179.4L429.3 179.0L429.8 179.6L430.3 178.2L430.8 179.1L431.3 179.9L431.8 180.4L432.3 180.4L432.8 179.0L433.3 179.6L433.8 179.5L434.3 178.8L434.8 178.8L435.3 180.1L435.8 179.8L436.3 179.7L436.8 180.5L437.3 179.2L437.8 180.1L438.3 179.9L438.8 179.9L439.3 180.2L439.8 180.1L440.3 180.2L440.8 180.2L441.3 181.1L441.8 179.9L442.3 180.7L442.8 180.5L443.3 180.0L443.8 180.6L444.3 179.8L444.8 180.9L445.3 179.8L445.8 180.0L446.3 180.5L446.8 180.8L447.3 180.8L447.8 180.9L448.3 180.3L448.8 179.9L449.3 180.7L449.8 180.6L450.3 180.0L450.8 181.0L451.3 180.7L451.8 180.1L452.3 180.8L452.8 180.0L453.3 180.2L453.8 180.9L454.3 180.0L454.8 180.8L455.3 180.1L455.8 181.1L456.3 180.5L456.8 180.9L457.3 180.2L457.8 180.7L458.3 181.4L458.8 181.2L459.3 180.1L459.8 181.4L460.3 181.4L460.8 180.8L461.3 181.7L461.8 180.6L462.3 181.0L462.8 181.6L463.3 181.7L463.8 181.7L464.3 180.6L464.8 180.3L465.3 181.3L465.8 180.5L466.3 181.1L466.8 180.6L467.3 181.6L467.8 181.5L468.3 181.4L468.8 181.2L469.3 181.2L469.8 181.1L470.3 181.4L470.8 181.3L471.3 181.4L471.8 181.1L472.3 182.1L472.8 181.4L473.3 181.9L473.8 181.9L474.3 180.9L474.8 180.6L475.3 181.9L475.8 181.2L476.3 181.4L476.8 181.3L477.3 181.4L477.8 180.9L478.3 181.4L478.8 181.2L479.3 181.4L479.8 180.5L480.3 181.8L480.8 181.6L481.3 180.8L481.8 181.2L482.3 181.5L482.8 181.7L483.3 181.5L483.8 182.1L484.3 181.5L484.8 181.1L485.3 181.3L485.8 181.8L486.3 181.3L486.8 181.9L487.3 182.0L487.8 181.8L488.3 182.0L488.8 181.6L489.3 181.6L489.8 181.4L490.3 181.4L490.8 181.1L491.3 181.5L491.8 181.3L492.3 181.2L492.8 181.8L493.3 181.9L493.8 181.6L494.3 182.2L494.8 182.1L495.3 182.1L495.8 181.6L496.3 181.3L496.8 182.0" fill="none" stroke="#80b866" stroke-width="1.00" stroke-linejoin="round"/>
<path d="M317.3 182.3L317.8 181.6L318.3 180.8L318.8 180.2L319.3 180.1L319.8 178.0L320.3 178.8L320.8 178.8L321.3 178.7L321.8 179.3L322.3 179.5L322.8 180.9L323.3 179.9L323.8 179.9L324.3 180.5L324.8 179.5L325.3 179.9L325.8 180.5L326.3 179.7L326.8 179.1L327.3 179.1L327.8 178.3L328.3 179.7L328.8 179.5L329.3 179.9L329.8 178.0L330.3 177.7L330.8 177.5L331.3 177.8L331.8 177.0L332.3 177.3L332.8 176.0L333.3 174.8L333.8 176.9L334.3 174.8L334.8 175.8L335.3 174.1L335.8 174.2L336.3 172.2L336.8 172.4L337.3 173.3L337.8 173.0L338.3 171.7L338.8 171.5L339.3 169.0L339.8 170.4L340.3 169.2L340.8 168.3L341.3 169.3L341.8 167.8L342.3 166.6L342.8 166.5L343.3 165.9L343.8 165.3L344.3 165.1L344.8 164.1L345.3 165.6L345.8 166.2L346.3 165.2L346.8 163.2L347.3 162.3L347.8 163.1L348.3 161.8L348.8 163.4L349.3 162.1L349.8 162.7L350.3 161.6L350.8 162.8L351.3 161.6L351.8 161.9L352.3 164.7L352.8 163.9L353.3 165.3L353.8 166.3L354.3 166.5L354.8 163.8L355.3 162.4L355.8 163.7L356.3 163.9L356.8 163.4L357.3 161.6L357.8 161.9L358.3 163.3L358.8 159.8L359.3 160.7L359.8 163.0L360.3 163.7L360.8 162.6L361.3 164.0L361.8 165.1L362.3 165.0L362.8 167.3L363.3 167.2L363.8 169.4L364.3 168.1L364.8 169.1L365.3 169.7L365.8 170.5L366.3 168.2L366.8 171.5L367.3 170.3L367.8 170.6L368.3 171.4L368.8 169.7L369.3 169.8L369.8 169.2L370.3 169.8L370.8 169.9L371.3 170.7L371.8 169.6L372.3 168.8L372.8 170.5L373.3 168.8L373.8 169.4L374.3 168.4L374.8 166.2L375.3 167.9L375.8 166.9L376.3 166.3L376.8 165.5L377.3 167.3L377.8 166.7L378.3 163.7L378.8 163.1L379.3 163.2L379.8 162.8L380.3 164.6L380.8 162.5L381.3 164.8L381.8 160.6L382.3 161.0L382.8 164.1L383.3 161.8L383.8 158.5L384.3 163.2L384.8 160.2L385.3 158.7L385.8 154.1L386.3 157.8L386.8 155.7L387.3 154.7L387.8 153.6L388.3 150.7L388.8 150.8L389.3 152.3L389.8 152.2L390.3 150.7L390.8 149.2L391.3 147.9L391.8 147.4L392.3 149.3L392.8 144.7L393.3 140.9L393.8 143.4L394.3 141.1L394.8 138.8L395.3 137.6L395.8 140.4L396.3 136.9L396.8 136.9L397.3 134.7L397.8 137.5L398.3 133.5L398.8 132.5L399.3 129.3L399.8 128.8L400.3 132.3L400.8 126.9L401.3 129.8L401.8 127.6L402.3 126.1L402.8 124.6L403.3 122.9L403.8 124.2L404.3 120.7L404.8 116.1L405.3 117.3L405.8 120.1L406.3 112.3L406.8 113.3L407.3 111.6L407.8 112.7L408.3 106.7L408.8 110.8L409.3 103.8L409.8 105.5L410.3 101.3L410.8 103.7L411.3 101.1L411.8 98.1L412.3 101.8L412.8 97.9L413.3 101.5L413.8 93.7L414.3 102.7L414.8 98.7L415.3 104.1L415.8 102.4L416.3 101.5L416.8 101.8L417.3 102.1L417.8 106.0L418.3 104.9L418.8 102.7L419.3 106.2L419.8 108.6L420.3 108.1L420.8 109.0L421.3 110.0L421.8 104.0L422.3 110.7L422.8 114.5L423.3 112.9L423.8 111.8L424.3 110.7L424.8 112.4L425.3 118.6L425.8 113.8L426.3 116.5L426.8 115.7L427.3 117.7L427.8 114.4L428.3 113.5L428.8 117.7L429.3 119.6L429.8 115.0L430.3 120.3L430.8 121.9L431.3 121.8L431.8 122.2L432.3 119.7L432.8 122.6L433.3 122.8L433.8 127.5L434.3 127.2L434.8 128.4L435.3 124.8L435.8 126.5L436.3 131.5L436.8 132.9L437.3 136.2L437.8 131.4L438.3 129.8L438.8 132.6L439.3 131.3L439.8 134.1L440.3 138.7L440.8 140.4L441.3 137.6L441.8 137.5L442.3 141.1L442.8 140.1L443.3 147.1L443.8 150.0L444.3 149.4L444.8 148.3L445.3 149.0L445.8 151.0L446.3 153.2L446.8 154.8L447.3 155.6L447.8 156.8L448.3 155.1L448.8 156.5L449.3 151.5L449.8 153.3L450.3 155.7L450.8 154.2L451.3 155.5L451.8 156.7L452.3 158.3L452.8 158.2L453.3 159.0L453.8 159.2L454.3 160.9L454.8 162.5L455.3 161.0L455.8 162.9L456.3 163.4L456.8 163.6L457.3 163.4L457.8 164.3L458.3 165.1L458.8 166.7L459.3 167.2L459.8 168.1L460.3 167.6L460.8 166.6L461.3 168.6L461.8 166.3L462.3 169.9L462.8 171.2L463.3 168.6L463.8 169.3L464.3 168.0L464.8 170.4L465.3 170.5L465.8 171.5L466.3 172.0L466.8 171.7L467.3 173.4L467.8 173.5L468.3 172.5L468.8 173.9L469.3 172.1L469.8 171.9L470.3 172.5L470.8 175.5L471.3 173.1L471.8 173.3L472.3 174.2L472.8 174.5L473.3 175.5L473.8 176.2L474.3 175.3L474.8 175.4L475.3 175.5L475.8 175.7L476.3 176.1L476.8 176.7L477.3 177.5L477.8 178.2L478.3 178.1L478.8 177.6L479.3 178.4L479.8 177.3L480.3 179.2L480.8 178.7L481.3 179.5L481.8 178.5L482.3 177.7L482.8 179.8L483.3 178.6L483.8 178.2L484.3 177.5L484.8 177.6L485.3 179.2L485.8 179.4L486.3 178.8L486.8 180.2L487.3 179.1L487.8 179.6L488.3 178.6L488.8 178.7L489.3 178.6L489.8 179.7L490.3 179.4L490.8 179.4L491.3 179.7L491.8 179.5L492.3 179.7L492.8 178.3L493.3 180.0L493.8 180.1L494.3 180.3L494.8 179.8L495.3 179.4L495.8 179.2L496.3 180.5L496.8 179.6" fill="none" stroke="#e2231c" stroke-width="1.00" stroke-linejoin="round"/>
<path d="M317.3 182.1L317.8 182.3L318.3 182.4L318.8 182.2L319.3 182.3L319.8 181.8L320.3 182.1L320.8 182.0L321.3 182.4L321.8 182.1L322.3 182.0L322.8 181.7L323.3 181.6L323.8 181.9L324.3 182.3L324.8 181.1L325.3 180.9L325.8 182.4L326.3 182.1L326.8 181.6L327.3 181.4L327.8 180.9L328.3 180.8L328.8 180.2L329.3 181.0L329.8 180.5L330.3 179.4L330.8 180.0L331.3 179.9L331.8 179.7L332.3 181.0L332.8 180.2L333.3 177.8L333.8 179.1L334.3 179.2L334.8 179.1L335.3 178.4L335.8 176.0L336.3 177.8L336.8 176.9L337.3 177.7L337.8 176.6L338.3 174.1L338.8 176.1L339.3 172.1L339.8 173.4L340.3 171.6L340.8 169.5L341.3 166.6L341.8 167.6L342.3 167.2L342.8 167.7L343.3 167.3L343.8 169.3L344.3 167.5L344.8 168.1L345.3 164.8L345.8 165.2L346.3 165.8L346.8 164.6L347.3 163.0L347.8 160.2L348.3 158.0L348.8 161.1L349.3 156.3L349.8 155.8L350.3 157.8L350.8 154.4L351.3 152.2L351.8 153.8L352.3 151.3L352.8 153.2L353.3 150.0L353.8 148.0L354.3 152.4L354.8 147.9L355.3 142.9L355.8 139.7L356.3 136.6L356.8 137.3L357.3 135.2L357.8 138.8L358.3 138.7L358.8 135.1L359.3 134.5L359.8 136.0L360.3 135.0L360.8 135.8L361.3 135.5L361.8 134.3L362.3 133.3L362.8 128.3L363.3 130.4L363.8 122.9L364.3 126.0L364.8 122.3L365.3 120.9L365.8 116.8L366.3 111.9L366.8 104.2L367.3 106.8L367.8 105.5L368.3 107.6L368.8 106.4L369.3 104.0L369.8 103.1L370.3 100.8L370.8 100.3L371.3 99.8L371.8 98.5L372.3 94.2L372.8 89.3L373.3 87.5L373.8 89.5L374.3 81.9L374.8 81.1L375.3 73.4L375.8 80.0L376.3 76.6L376.8 73.6L377.3 73.9L377.8 77.0L378.3 75.9L378.8 77.8L379.3 76.1L379.8 68.4L380.3 63.4L380.8 72.3L381.3 68.1L381.8 73.8L382.3 74.2L382.8 70.7L383.3 72.2L383.8 74.5L384.3 82.9L384.8 79.8L385.3 80.6L385.8 85.5L386.3 81.3L386.8 83.0L387.3 83.7L387.8 86.1L388.3 84.7L388.8 88.5L389.3 92.7L389.8 91.0L390.3 92.2L390.8 97.3L391.3 94.8L391.8 98.3L392.3 102.4L392.8 102.0L393.3 108.0L393.8 104.6L394.3 103.2L394.8 110.6L395.3 112.9L395.8 116.8L396.3 114.3L396.8 120.0L397.3 125.2L397.8 125.6L398.3 129.8L398.8 127.5L399.3 131.7L399.8 132.4L400.3 137.3L400.8 133.9L401.3 139.9L401.8 139.5L402.3 140.6L402.8 140.6L403.3 141.2L403.8 141.4L404.3 145.7L404.8 144.5L405.3 149.2L405.8 148.9L406.3 149.9L406.8 152.0L407.3 150.9L407.8 153.6L408.3 150.4L408.8 153.5L409.3 156.8L409.8 156.1L410.3 159.8L410.8 158.6L411.3 158.3L411.8 162.4L412.3 161.4L412.8 161.7L413.3 162.6L413.8 162.4L414.3 163.7L414.8 165.8L415.3 164.4L415.8 165.6L416.3 165.3L416.8 166.8L417.3 167.9L417.8 168.4L418.3 167.9L418.8 167.9L419.3 169.5L419.8 170.5L420.3 170.5L420.8 172.5L421.3 170.6L421.8 170.2L422.3 170.9L422.8 172.5L423.3 170.8L423.8 171.8L424.3 170.4L424.8 172.0L425.3 173.1L425.8 173.6L426.3 173.3L426.8 173.9L427.3 172.4L427.8 174.9L428.3 175.3L428.8 172.4L429.3 173.2L429.8 175.2L430.3 175.2L430.8 175.5L431.3 174.3L431.8 173.0L432.3 173.1L432.8 175.0L433.3 173.5L433.8 171.6L434.3 172.9L434.8 174.1L435.3 173.8L435.8 174.7L436.3 174.9L436.8 174.8L437.3 174.2L437.8 175.5L438.3 176.4L438.8 175.5L439.3 177.0L439.8 177.8L440.3 176.9L440.8 176.7L441.3 176.5L441.8 175.8L442.3 177.8L442.8 176.4L443.3 176.2L443.8 178.3L444.3 177.7L444.8 176.6L445.3 177.3L445.8 177.4L446.3 177.9L446.8 175.9L447.3 176.7L447.8 176.4L448.3 177.7L448.8 177.1L449.3 178.0L449.8 179.1L450.3 178.2L450.8 177.2L451.3 177.9L451.8 178.3L452.3 176.8L452.8 179.0L453.3 178.4L453.8 178.8L454.3 179.2L454.8 178.6L455.3 179.4L455.8 178.9L456.3 177.9L456.8 178.7L457.3 178.7L457.8 179.3L458.3 180.0L458.8 178.0L459.3 179.0L459.8 178.6L460.3 179.2L460.8 179.7L461.3 180.2L461.8 178.2L462.3 179.4L462.8 180.2L463.3 178.9L463.8 179.9L464.3 179.8L464.8 180.4L465.3 179.8L465.8 178.3L466.3 179.0L466.8 179.8L467.3 179.6L467.8 179.6L468.3 180.5L468.8 179.2L469.3 180.0L469.8 180.5L470.3 179.0L470.8 180.2L471.3 180.0L471.8 179.8L472.3 181.4L472.8 179.9L473.3 180.7L473.8 179.9L474.3 179.8L474.8 180.5L475.3 181.0L475.8 180.4L476.3 180.8L476.8 180.4L477.3 181.1L477.8 180.6L478.3 180.7L478.8 181.0L479.3 180.9L479.8 180.7L480.3 180.5L480.8 180.8L481.3 180.5L481.8 181.4L482.3 180.7L482.8 181.2L483.3 180.5L483.8 181.1L484.3 180.1L484.8 180.6L485.3 181.5L485.8 181.1L486.3 180.0L486.8 180.8L487.3 180.9L487.8 180.7L488.3 180.3L488.8 180.4L489.3 181.8L489.8 180.9L490.3 181.5L490.8 181.5L491.3 180.8L491.8 181.3L492.3 181.3L492.8 180.8L493.3 181.4L493.8 181.3L494.3 181.4L494.8 181.2L495.3 181.2L495.8 181.4L496.3 181.1L496.8 181.9" fill="none" stroke="#141414" stroke-width="1.00" stroke-linejoin="round"/>
<path d="M317.3 182.3L317.8 181.9L318.3 182.4L318.8 182.4L319.3 182.3L319.8 182.4L320.3 182.4L320.8 182.3L321.3 182.2L321.8 182.3L322.3 181.7L322.8 181.2L323.3 181.0L323.8 181.9L324.3 181.8L324.8 181.5L325.3 180.5L325.8 181.1L326.3 180.9L326.8 180.2L327.3 180.1L327.8 181.5L328.3 180.9L328.8 180.4L329.3 179.9L329.8 179.2L330.3 179.1L330.8 179.6L331.3 178.3L331.8 178.5L332.3 179.6L332.8 177.1L333.3 177.2L333.8 178.9L334.3 177.6L334.8 177.1L335.3 176.0L335.8 175.3L336.3 177.2L336.8 174.1L337.3 176.1L337.8 174.9L338.3 175.0L338.8 172.9L339.3 175.4L339.8 174.8L340.3 174.2L340.8 174.0L341.3 171.9L341.8 173.1L342.3 173.1L342.8 172.2L343.3 169.8L343.8 171.6L344.3 171.5L344.8 169.8L345.3 170.8L345.8 171.9L346.3 169.9L346.8 171.2L347.3 168.6L347.8 168.0L348.3 168.8L348.8 166.9L349.3 165.5L349.8 167.7L350.3 166.3L350.8 165.9L351.3 162.6L351.8 162.0L352.3 162.1L352.8 159.3L353.3 158.5L353.8 157.9L354.3 155.0L354.8 154.8L355.3 149.9L355.8 151.3L356.3 152.1L356.8 147.4L357.3 142.9L357.8 138.1L358.3 137.3L358.8 137.4L359.3 134.8L359.8 134.6L360.3 130.7L360.8 129.0L361.3 124.3L361.8 124.6L362.3 124.0L362.8 116.5L363.3 117.3L363.8 116.3L364.3 115.5L364.8 117.0L365.3 111.8L365.8 108.8L366.3 105.4L366.8 102.8L367.3 104.3L367.8 104.1L368.3 98.0L368.8 91.7L369.3 90.5L369.8 85.3L370.3 87.9L370.8 81.2L371.3 80.6L371.8 75.8L372.3 76.7L372.8 72.9L373.3 78.4L373.8 73.4L374.3 70.7L374.8 70.7L375.3 73.1L375.8 67.2L376.3 70.6L376.8 68.4L377.3 64.1L377.8 68.9L378.3 78.5L378.8 79.2L379.3 84.4L379.8 87.2L380.3 83.7L380.8 79.3L381.3 73.4L381.8 71.2L382.3 71.3L382.8 67.7L383.3 71.0L383.8 70.4L384.3 72.3L384.8 73.0L385.3 76.3L385.8 78.1L386.3 88.1L386.8 84.8L387.3 88.7L387.8 87.8L388.3 92.8L388.8 96.0L389.3 101.5L389.8 102.9L390.3 97.7L390.8 104.5L391.3 100.7L391.8 104.5L392.3 101.8L392.8 104.6L393.3 103.2L393.8 100.6L394.3 107.8L394.8 108.5L395.3 111.9L395.8 115.8L396.3 119.1L396.8 125.2L397.3 120.6L397.8 124.3L398.3 125.5L398.8 132.0L399.3 130.4L399.8 131.4L400.3 135.3L400.8 136.2L401.3 138.8L401.8 136.4L402.3 140.7L402.8 143.2L403.3 142.3L403.8 146.7L404.3 145.2L404.8 144.9L405.3 146.6L405.8 149.3L406.3 151.1L406.8 149.5L407.3 152.2L407.8 151.7L408.3 151.8L408.8 152.8L409.3 156.6L409.8 155.8L410.3 157.8L410.8 161.1L411.3 161.1L411.8 160.0L412.3 161.0L412.8 162.5L413.3 159.9L413.8 164.5L414.3 163.3L414.8 165.9L415.3 164.5L415.8 165.4L416.3 167.4L416.8 167.7L417.3 169.6L417.8 167.3L418.3 167.7L418.8 170.6L419.3 169.9L419.8 168.2L420.3 169.4L420.8 170.7L421.3 170.0L421.8 169.3L422.3 171.3L422.8 172.0L423.3 173.2L423.8 173.1L424.3 173.0L424.8 171.5L425.3 171.2L425.8 171.6L426.3 173.4L426.8 173.9L427.3 171.3L427.8 173.9L428.3 174.5L428.8 175.4L429.3 175.0L429.8 175.4L430.3 174.8L430.8 174.1L431.3 174.1L431.8 174.0L432.3 172.7L432.8 173.6L433.3 174.5L433.8 173.0L434.3 174.4L434.8 172.6L435.3 174.2L435.8 173.4L436.3 175.5L436.8 175.5L437.3 176.0L437.8 176.2L438.3 176.3L438.8 177.0L439.3 176.3L439.8 174.4L440.3 176.4L440.8 176.8L441.3 174.7L441.8 177.5L442.3 176.6L442.8 177.6L443.3 176.6L443.8 177.0L444.3 176.3L444.8 176.9L445.3 175.9L445.8 177.4L446.3 177.0L446.8 176.9L447.3 176.9L447.8 176.8L448.3 177.5L448.8 177.5L449.3 177.5L449.8 178.8L450.3 177.0L450.8 177.6L451.3 177.0L451.8 177.8L452.3 177.9L452.8 176.8L453.3 178.5L453.8 176.8L454.3 178.0L454.8 178.2L455.3 177.6L455.8 179.5L456.3 178.7L456.8 177.8L457.3 179.0L457.8 179.1L458.3 178.5L458.8 178.4L459.3 179.6L459.8 180.4L460.3 179.2L460.8 180.5L461.3 178.0L461.8 178.1L462.3 179.3L462.8 178.9L463.3 179.5L463.8 180.6L464.3 178.8L464.8 179.8L465.3 179.5L465.8 178.8L466.3 179.5L466.8 179.0L467.3 179.6L467.8 180.7L468.3 180.5L468.8 180.5L469.3 180.0L469.8 179.7L470.3 181.2L470.8 180.1L471.3 180.4L471.8 180.8L472.3 180.2L472.8 180.6L473.3 180.3L473.8 180.5L474.3 180.9L474.8 179.7L475.3 180.5L475.8 180.2L476.3 180.4L476.8 180.7L477.3 181.3L477.8 179.4L478.3 181.5L478.8 180.3L479.3 180.2L479.8 180.3L480.3 180.8L480.8 180.8L481.3 179.8L481.8 179.9L482.3 181.3L482.8 180.7L483.3 179.8L483.8 180.7L484.3 180.7L484.8 181.6L485.3 180.5L485.8 180.6L486.3 180.8L486.8 181.2L487.3 181.2L487.8 181.3L488.3 181.9L488.8 181.0L489.3 181.9L489.8 181.2L490.3 181.5L490.8 181.6L491.3 182.0L491.8 180.8L492.3 182.2L492.8 180.4L493.3 181.2L493.8 181.3L494.3 181.3L494.8 182.0L495.3 180.7L495.8 180.9L496.3 181.9L496.8 182.2" fill="none" stroke="#a8348f" stroke-width="1.00" stroke-linejoin="round"/>
<path d="M317.3 182.4L317.8 182.1L318.3 181.5L318.8 182.0L319.3 181.5L319.8 181.3L320.3 180.9L320.8 181.4L321.3 180.8L321.8 181.0L322.3 180.2L322.8 180.1L323.3 179.7L323.8 180.2L324.3 179.1L324.8 181.2L325.3 180.4L325.8 180.4L326.3 180.8L326.8 180.1L327.3 180.4L327.8 180.7L328.3 179.4L328.8 181.3L329.3 180.4L329.8 180.7L330.3 179.7L330.8 180.0L331.3 181.3L331.8 179.8L332.3 179.7L332.8 180.0L333.3 180.4L333.8 178.0L334.3 180.1L334.8 179.1L335.3 179.3L335.8 177.8L336.3 178.5L336.8 179.3L337.3 177.8L337.8 177.2L338.3 177.2L338.8 176.9L339.3 177.7L339.8 177.1L340.3 176.3L340.8 177.2L341.3 175.4L341.8 174.9L342.3 177.7L342.8 175.2L343.3 177.0L343.8 175.3L344.3 175.0L344.8 175.5L345.3 174.0L345.8 173.8L346.3 174.1L346.8 173.7L347.3 174.5L347.8 175.5L348.3 172.1L348.8 172.2L349.3 173.6L349.8 173.1L350.3 173.5L350.8 171.2L351.3 172.4L351.8 171.9L352.3 170.6L352.8 173.1L353.3 171.4L353.8 173.9L354.3 173.2L354.8 173.8L355.3 176.3L355.8 176.1L356.3 175.0L356.8 175.0L357.3 173.9L357.8 175.8L358.3 175.2L358.8 173.8L359.3 173.1L359.8 174.6L360.3 174.6L360.8 175.9L361.3 174.5L361.8 175.0L362.3 176.5L362.8 176.5L363.3 177.5L363.8 178.0L364.3 176.7L364.8 175.6L365.3 177.1L365.8 176.3L366.3 177.0L366.8 174.9L367.3 176.4L367.8 176.4L368.3 175.6L368.8 176.5L369.3 176.1L369.8 176.2L370.3 177.1L370.8 177.1L371.3 177.1L371.8 176.3L372.3 176.1L372.8 176.5L373.3 176.3L373.8 175.4L374.3 176.4L374.8 176.8L375.3 175.7L375.8 175.0L376.3 176.2L376.8 174.8L377.3 173.9L377.8 174.7L378.3 173.4L378.8 174.8L379.3 173.7L379.8 174.1L380.3 174.8L380.8 174.6L381.3 173.1L381.8 171.1L382.3 172.9L382.8 172.4L383.3 174.6L383.8 175.4L384.3 174.8L384.8 174.9L385.3 175.0L385.8 175.3L386.3 174.4L386.8 175.8L387.3 174.8L387.8 174.2L388.3 175.5L388.8 177.0L389.3 175.6L389.8 174.4L390.3 176.7L390.8 174.9L391.3 174.2L391.8 172.2L392.3 172.2L392.8 172.5L393.3 169.1L393.8 169.9L394.3 168.8L394.8 166.5L395.3 167.0L395.8 166.8L396.3 163.9L396.8 165.6L397.3 161.5L397.8 163.7L398.3 161.9L398.8 160.4L399.3 157.7L399.8 156.5L400.3 153.3L400.8 155.5L401.3 153.7L401.8 153.1L402.3 152.1L402.8 148.8L403.3 146.0L403.8 146.7L404.3 143.2L404.8 141.4L405.3 137.4L405.8 140.0L406.3 134.5L406.8 137.9L407.3 130.0L407.8 128.8L408.3 127.6L408.8 123.3L409.3 118.9L409.8 117.4L410.3 117.1L410.8 117.4L411.3 121.9L411.8 122.7L412.3 119.2L412.8 116.5L413.3 105.6L413.8 105.6L414.3 102.2L414.8 98.1L415.3 99.2L415.8 93.7L416.3 90.0L416.8 93.2L417.3 86.7L417.8 86.9L418.3 82.3L418.8 88.6L419.3 86.4L419.8 90.8L420.3 92.9L420.8 89.3L421.3 85.4L421.8 83.2L422.3 89.2L422.8 82.9L423.3 84.1L423.8 81.6L424.3 73.3L424.8 78.5L425.3 77.2L425.8 75.9L426.3 73.4L426.8 74.5L427.3 72.8L427.8 79.8L428.3 79.4L428.8 85.0L429.3 92.8L429.8 87.8L430.3 82.1L430.8 84.2L431.3 81.8L431.8 89.3L432.3 95.6L432.8 86.6L433.3 87.1L433.8 83.9L434.3 89.8L434.8 93.1L435.3 95.0L435.8 94.1L436.3 90.1L436.8 93.2L437.3 94.8L437.8 101.2L438.3 96.9L438.8 106.9L439.3 99.7L439.8 94.8L440.3 102.2L440.8 103.8L441.3 105.1L441.8 111.9L442.3 115.3L442.8 113.0L443.3 121.4L443.8 117.8L444.3 123.1L444.8 122.3L445.3 123.2L445.8 128.5L446.3 131.9L446.8 136.4L447.3 135.9L447.8 139.7L448.3 144.6L448.8 145.2L449.3 144.6L449.8 146.0L450.3 142.4L450.8 148.1L451.3 144.4L451.8 147.7L452.3 148.1L452.8 151.4L453.3 150.7L453.8 152.2L454.3 155.9L454.8 157.7L455.3 157.5L455.8 161.8L456.3 160.9L456.8 162.6L457.3 163.1L457.8 163.4L458.3 162.3L458.8 165.4L459.3 162.9L459.8 163.8L460.3 165.8L460.8 165.4L461.3 163.0L461.8 164.3L462.3 164.1L462.8 167.2L463.3 165.8L463.8 166.8L464.3 166.5L464.8 167.2L465.3 169.1L465.8 167.7L466.3 169.4L466.8 169.3L467.3 169.9L467.8 169.4L468.3 172.6L468.8 170.1L469.3 171.1L469.8 172.4L470.3 173.4L470.8 173.1L471.3 172.8L471.8 174.3L472.3 174.2L472.8 174.8L473.3 177.1L473.8 174.3L474.3 176.3L474.8 177.0L475.3 176.7L475.8 177.1L476.3 178.3L476.8 177.5L477.3 176.5L477.8 177.6L478.3 178.3L478.8 177.9L479.3 177.9L479.8 178.5L480.3 178.2L480.8 178.7L481.3 179.2L481.8 178.5L482.3 178.0L482.8 180.0L483.3 179.5L483.8 178.9L484.3 178.7L484.8 179.6L485.3 179.8L485.8 180.0L486.3 179.9L486.8 179.5L487.3 179.5L487.8 178.9L488.3 179.4L488.8 179.6L489.3 180.5L489.8 179.2L490.3 181.1L490.8 180.5L491.3 179.8L491.8 179.8L492.3 180.3L492.8 180.4L493.3 180.6L493.8 179.3L494.3 180.1L494.8 180.6L495.3 180.8L495.8 180.6L496.3 180.4L496.8 180.6" fill="none" stroke="#2b2483" stroke-width="1.00" stroke-linejoin="round"/>
<rect x="317.3" y="48.2" width="179.8" height="134.3" fill="none" stroke="#000" stroke-width="1.6"/>
<text x="475.3" y="65.6" font-size="11" fill="#222">Fg</text>
<text x="407.2" y="40.2" font-size="13.35" text-anchor="middle" fill="#222">mAbs added after fixation</text>
<text transform="translate(407.2 223.4) scale(0.735 1)" font-size="12.6" text-anchor="middle" fill="#222" stroke="#222" stroke-width="0.55">Fluorescence</text>
<text transform="translate(281.0 115.1) rotate(-90) scale(0.705 1)" font-size="13" text-anchor="middle" fill="#222" stroke="#222" stroke-width="0.55">Cell count</text>
<line x1="151.1" y1="246.2" x2="173.1" y2="246.2" stroke="#111" stroke-width="2"/><text x="177.6" y="249.9" font-size="10.5" letter-spacing="-0.08" fill="#1a1a1a">Untreated</text>
<line x1="151.1" y1="262.6" x2="173.1" y2="262.6" stroke="#a23a8f" stroke-width="2"/><text x="177.6" y="266.2" font-size="10.5" letter-spacing="0.00" fill="#9c4a8d">+ EDTA</text>
<line x1="151.1" y1="278.9" x2="173.1" y2="278.9" stroke="#30287f" stroke-width="2"/><text x="177.6" y="282.6" font-size="10.5" letter-spacing="0.13" fill="#443a84">Eptifibatide + PBS</text>
<line x1="277.8" y1="254.5" x2="299.8" y2="254.5" stroke="#c81c1e" stroke-width="2"/><text x="304.3" y="258.2" font-size="10.5" letter-spacing="0.13" fill="#c4272e">Eptifibatide + R21D10</text>
<line x1="277.8" y1="271.1" x2="299.8" y2="271.1" stroke="#5a9d44" stroke-width="2"/><text x="304.3" y="274.8" font-size="10.5" letter-spacing="0.13" fill="#5b9e47">Eptifibatide + 7E3</text>
<line x1="98.6" y1="453.6" x2="98.6" y2="459.4" stroke="#222" stroke-width="1.5"/>
<line x1="93.9" y1="453.6" x2="103.3" y2="453.6" stroke="#111" stroke-width="1.7"/>
<rect x="89.0" y="459.4" width="19.2" height="13.9" fill="#181818"/>
<line x1="98.6" y1="473.3" x2="98.6" y2="477.7" stroke="#000" stroke-width="1.3"/>
<line x1="127.9" y1="457.1" x2="127.9" y2="461.3" stroke="#222" stroke-width="1.5"/>
<line x1="123.2" y1="457.1" x2="132.6" y2="457.1" stroke="#111" stroke-width="1.7"/>
<rect x="118.3" y="461.3" width="19.2" height="12.0" fill="#b43a94"/>
<line x1="127.9" y1="473.3" x2="127.9" y2="477.7" stroke="#000" stroke-width="1.3"/>
<line x1="157.2" y1="356.4" x2="157.2" y2="374.3" stroke="#222" stroke-width="1.5"/>
<line x1="152.5" y1="356.4" x2="161.9" y2="356.4" stroke="#111" stroke-width="1.7"/>
<rect x="147.6" y="374.3" width="19.2" height="99.0" fill="#3c2282"/>
<line x1="157.2" y1="473.3" x2="157.2" y2="477.7" stroke="#000" stroke-width="1.3"/>
<line x1="186.5" y1="440.6" x2="186.5" y2="446.0" stroke="#222" stroke-width="1.5"/>
<line x1="181.8" y1="440.6" x2="191.2" y2="440.6" stroke="#111" stroke-width="1.7"/>
<rect x="176.9" y="446.0" width="19.2" height="27.3" fill="#e41712"/>
<line x1="186.5" y1="473.3" x2="186.5" y2="477.7" stroke="#000" stroke-width="1.3"/>
<line x1="215.8" y1="465.6" x2="215.8" y2="467.5" stroke="#222" stroke-width="1.5"/>
<line x1="211.1" y1="465.6" x2="220.5" y2="465.6" stroke="#111" stroke-width="1.7"/>
<rect x="206.2" y="467.5" width="19.2" height="5.8" fill="#5ab432"/>
<line x1="215.8" y1="473.3" x2="215.8" y2="477.7" stroke="#000" stroke-width="1.3"/>
<line x1="245.1" y1="392.6" x2="245.1" y2="398.6" stroke="#222" stroke-width="1.5"/>
<line x1="240.4" y1="392.6" x2="249.8" y2="392.6" stroke="#111" stroke-width="1.7"/>
<rect x="235.5" y="398.6" width="19.2" height="74.7" fill="#e41712"/>
<line x1="245.1" y1="473.3" x2="245.1" y2="477.7" stroke="#000" stroke-width="1.3"/>
<line x1="274.4" y1="463.9" x2="274.4" y2="466.4" stroke="#222" stroke-width="1.5"/>
<line x1="269.7" y1="463.9" x2="279.1" y2="463.9" stroke="#111" stroke-width="1.7"/>
<rect x="264.8" y="466.4" width="19.2" height="6.9" fill="#5ab432"/>
<line x1="274.4" y1="473.3" x2="274.4" y2="477.7" stroke="#000" stroke-width="1.3"/>
<line x1="83.9" y1="332.1" x2="83.9" y2="474.1" stroke="#000" stroke-width="1.6"/>
<line x1="83.1" y1="473.3" x2="289.6" y2="473.3" stroke="#000" stroke-width="1.6"/>
<line x1="79.5" y1="473.1" x2="83.9" y2="473.1" stroke="#000" stroke-width="1.3"/>
<text x="75.7" y="476.8" font-size="10.8" letter-spacing="0.68" text-anchor="end" fill="#222">0</text>
<line x1="79.5" y1="445.8" x2="83.9" y2="445.8" stroke="#000" stroke-width="1.3"/>
<text x="75.7" y="449.5" font-size="10.8" letter-spacing="0.68" text-anchor="end" fill="#222">2000</text>
<line x1="79.5" y1="418.4" x2="83.9" y2="418.4" stroke="#000" stroke-width="1.3"/>
<text x="75.7" y="422.1" font-size="10.8" letter-spacing="0.68" text-anchor="end" fill="#222">4000</text>
<line x1="79.5" y1="391.1" x2="83.9" y2="391.1" stroke="#000" stroke-width="1.3"/>
<text x="75.7" y="394.8" font-size="10.8" letter-spacing="0.68" text-anchor="end" fill="#222">6000</text>
<line x1="79.5" y1="363.7" x2="83.9" y2="363.7" stroke="#000" stroke-width="1.3"/>
<text x="75.7" y="367.4" font-size="10.8" letter-spacing="0.68" text-anchor="end" fill="#222">8000</text>
<line x1="79.5" y1="336.4" x2="83.9" y2="336.4" stroke="#000" stroke-width="1.3"/>
<text x="75.7" y="340.1" font-size="10.8" letter-spacing="0.68" text-anchor="end" fill="#222">10000</text>
<text transform="translate(33.3 403.3) rotate(-90) scale(0.725 1)" font-size="13" text-anchor="middle" fill="#222" stroke="#222" stroke-width="0.4">Fibrinogen binding</text>
<line x1="157.3" y1="335.7" x2="242.0" y2="335.7" stroke="#111" stroke-width="1.4"/>
<text x="199.7" y="334.8" font-size="10" font-weight="bold" text-anchor="middle" fill="#111">**</text>
<line x1="157.3" y1="352.6" x2="183.9" y2="352.6" stroke="#111" stroke-width="1.4"/>
<text x="170.6" y="351.7" font-size="10" font-weight="bold" text-anchor="middle" fill="#111">****</text>
<line x1="188.5" y1="388.1" x2="245.1" y2="388.1" stroke="#111" stroke-width="1.4"/>
<text x="216.8" y="387.2" font-size="10" font-weight="bold" text-anchor="middle" fill="#111">****</text>
<line x1="180.2" y1="481.9" x2="221.2" y2="481.9" stroke="#111" stroke-width="1.5"/>
<line x1="239.3" y1="481.9" x2="280.2" y2="481.9" stroke="#111" stroke-width="1.5"/>
<text x="200.6" y="496.2" font-size="10.8" text-anchor="middle" fill="#222">Before</text>
<text x="200.6" y="510.1" font-size="10.8" text-anchor="middle" fill="#222">fixation</text>
<text x="259.7" y="496.2" font-size="10.8" text-anchor="middle" fill="#222">After</text>
<text x="259.7" y="510.1" font-size="10.8" text-anchor="middle" fill="#222">fixation</text>
<line x1="302.8" y1="370.1" x2="324.8" y2="370.1" stroke="#111" stroke-width="2"/><text x="329.3" y="373.8" font-size="10.5" letter-spacing="-0.08" fill="#1a1a1a">Untreated</text>
<line x1="302.8" y1="386.4" x2="324.8" y2="386.4" stroke="#a23a8f" stroke-width="2"/><text x="329.3" y="390.1" font-size="10.5" letter-spacing="0.00" fill="#9c4a8d">+ EDTA</text>
<line x1="302.8" y1="402.7" x2="324.8" y2="402.7" stroke="#30287f" stroke-width="2"/><text x="329.3" y="406.4" font-size="10.5" letter-spacing="0.13" fill="#443a84">Eptifibatide + PBS</text>
<line x1="302.8" y1="419.0" x2="324.8" y2="419.0" stroke="#c81c1e" stroke-width="2"/><text x="329.3" y="422.7" font-size="10.5" letter-spacing="0.13" fill="#c4272e">Eptifibatide + R21D10</text>
<line x1="302.8" y1="435.3" x2="324.8" y2="435.3" stroke="#5a9d44" stroke-width="2"/><text x="329.3" y="439.0" font-size="10.5" letter-spacing="0.13" fill="#5b9e47">Eptifibatide + 7E3</text>
<path d="M0 0H520V523H0Z M1.3 1.3V521.7H518.7V1.3Z" fill="#2a2a2a" fill-rule="evenodd"/>
</svg>
</body></html>
